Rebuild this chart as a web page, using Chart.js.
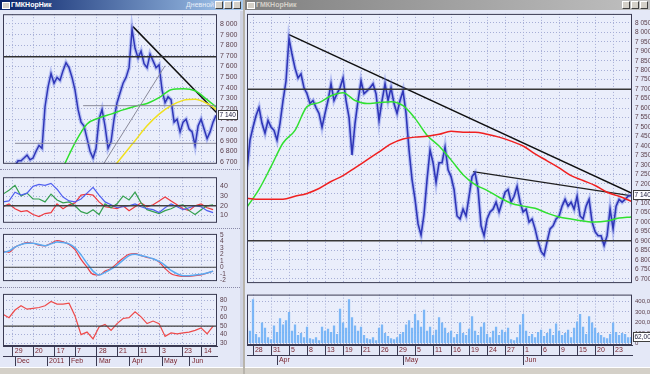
<!DOCTYPE html>
<html>
<head>
<meta charset="utf-8">
<script src="https://cdn.jsdelivr.net/npm/chart.js@4.4.0/dist/chart.umd.min.js"></script>
<style>
body{margin:0;width:650px;height:374px;overflow:hidden;background:#e4e8f7;font-family:"Liberation Sans",Arial,sans-serif;position:relative}
canvas{position:absolute}
.tb{position:absolute;top:0;height:10px;font-size:7px;line-height:10px;font-weight:bold;padding-left:11px;box-sizing:border-box;white-space:nowrap}
.ico{position:absolute;left:2px;top:2px;width:6px;height:5px;background:#d4d0c8;border:1px solid #fff}
.btns{position:absolute;right:2px;top:1px;line-height:0}
.btns span{display:inline-block;width:6px;height:6px;margin-left:1px;background:#d4d0c8;border:1px solid;border-color:#fff #404040 #404040 #fff}
.cap{position:absolute;top:0;font-weight:normal}
.sb{position:absolute;top:367px;height:7px;background:#d4d0c8;border-top:1px solid #fff;box-sizing:border-box}
.sep{position:absolute;left:0;width:240px;height:0;border-top:1px dotted #8a8aa8}
</style>
</head>
<body>
<div class="tb" style="left:0;width:243px;background:linear-gradient(90deg,#0a246a,#a6caf0);color:#fff">
  <div class="ico"></div>ГМКНорНик
  <span class="cap" style="right:29px;color:#e8eef8">Дневной</span>
  <div class="btns"><span></span><span></span><span></span></div>
</div>
<div class="tb" style="left:245px;width:405px;background:linear-gradient(90deg,#808080,#c0c0c0);color:#d4d0c8">
  <div class="ico"></div>ГМКНорНик
  <div class="btns"><span></span><span></span><span></span></div>
</div>
<div style="position:absolute;left:243px;top:0;width:2px;height:374px;background:#b8b4ac"></div>
<div style="position:absolute;left:240px;top:11px;width:3px;height:356px;background:#cfd2e2"></div>
<div class="sep" style="top:169px"></div>
<div class="sep" style="top:228px"></div>
<div class="sep" style="top:287px"></div>

<canvas id="l1" width="243" height="164" style="left:0;top:7px"></canvas>
<canvas id="l2" width="243" height="60" style="left:0;top:170px"></canvas>
<canvas id="l3" width="243" height="61" style="left:0;top:227px"></canvas>
<canvas id="l4" width="243" height="80" style="left:0;top:287px"></canvas>
<canvas id="r1" width="405" height="283" style="left:245px;top:7px"></canvas>
<canvas id="r2" width="405" height="78" style="left:245px;top:288px"></canvas>

<div class="sb" style="left:0;width:243px"></div>
<div class="sb" style="left:245px;width:405px"></div>

<script>
// ---- left window (daily) ----
const priceL = [6600,6620,6640,6620,6660,6710,6710,6736,6764,6720,
  6736,6800,6855,6828,7220,7405,7533,7441,7496,7469,
  7560,7634,7588,7496,7377,7194,7075,7038,6919,6800,
  6736,6828,7102,7194,7038,6828,6892,7102,7258,7350,
  7441,7496,7588,7950,7771,7680,7744,7625,7588,7716,
  7652,7588,7615,7377,7258,7313,7285,7075,7102,6983,
  7075,7102,7010,6983,6855,7038,7102,7010,6919,6983,
  7075,7140];
const maGreenL = [null,null,null,null,6450,6650,6880,7057,7115,7150,7190,7225,7250,7305,7380,7390,7370,7286,7195];
const maYellowL = [null,null,null,null,null,null,null,null,null,6620,6760,6900,7040,7150,7230,7280,7290,7250,7175];
const adxBlue = [24,25,34,31,33,40,42,41,43,37,29,25,24,27,33,39,31,24,21,18,19,20,22,19,17,16,13,18,22,19,16,18,20,19,15,13];
const adxGreen = [32,36,41,30,33,27,27,24,32,26,23,24,20,14,12,16,11,22,18,22,30,26,34,23,16,14,12,15,17,20,21,15,11,16,20,21];
const adxRed = [19,22,17,14,15,11,9,12,13,22,17,21,23,31,32,31,24,19,18,17,20,15,19,23,19,21,25,29,25,21,17,15,20,22,18,16];
const macdRed = [2.5,2.3,3.1,3.5,3.8,3.7,3.4,3.3,3.7,4.1,3.9,3.5,2.7,1.2,0.0,-1.1,-1.2,-0.6,-0.2,0.6,1.4,2.0,2.1,1.8,1.5,1.3,0.8,-0.2,-1.0,-1.3,-1.4,-1.4,-1.3,-1.2,-0.9,-0.6];
const macdBlue = [2.3,2.5,3.1,3.5,3.7,3.7,3.5,3.3,3.6,3.9,3.8,3.6,3.0,1.9,0.6,-0.6,-1.2,-0.8,-0.3,0.3,1.1,1.8,2.0,1.8,1.6,1.3,0.9,0.3,-0.5,-1.0,-1.3,-1.3,-1.2,-1.1,-0.9,-0.6];
const rsi = [64,60,69,74,70,71,72,74,79,76,76,77,62,40,43,35,49,52,45,53,59,60,67,61,53,56,53,38,42,41,42,43,45,48,41,50];
const dayPosL = [3.3,10,17.3,24,31.3,38,45,52.3,59.7,66.3];
const dayLabelsL = ['29','20','17','7','28','21','11','3','23','14'];
const monthPosL = [4,14.7,22,31.3,42.3,53,62.3];
const monthLabelsL = ['Dec','2011','Feb','Mar','Apr','May','Jun'];
const levelsL = {resist: 7690, boxTop: 7230, boxBottom: 6875};
const trendL = [[43.3,7975],[71.3,7160]];
const channelL = [[33.3,6672],[54,7606]];

// ---- right window (hourly) ----
const priceR = [7275,7431,7499,7560,7603,7520,7468,7535,7500,7483,
  7431,7520,7640,7743,7967,7884,7811,7759,7780,7707,
  7676,7624,7640,7603,7572,7499,7572,7640,7728,7640,
  7676,7707,7759,7640,7551,7353,7520,7640,7743,7676,
  7691,7707,7728,7676,7535,7640,7728,7640,7707,7624,
  7572,7640,7691,7572,7379,7223,7119,6989,6930,7041,
  7223,7379,7312,7208,7312,7312,7395,7275,7239,7171,
  7031,7015,7067,7031,7135,7239,7260,7171,6979,6927,
  7015,7052,7067,7104,7052,7104,7156,7171,7104,7135,
  7187,7104,7052,7067,6999,7015,6963,6896,6844,6823,
  6896,6963,6979,7015,7031,7083,7119,7083,7104,7067,
  7135,7031,7015,7083,7119,6999,6948,6927,6927,6875,
  6927,7067,6963,7083,7119,7104,7119,7135,7140];
const maGreenR = [7078,7171,7291,7416,7483,7608,7629,7665,7681,7640,7624,7629,7634,7613,7546,7457,7400,7327,7249,7197,7166,7130,7098,7083,7072,7046,7026,7015,7005,6999,7005,7020,7026];
const maRedR = [7124,7119,7119,7119,7135,7150,7176,7213,7244,7285,7327,7369,7411,7437,7447,7452,7462,7478,7473,7473,7462,7447,7426,7400,7359,7322,7285,7244,7218,7192,7156,7135,7109];
const volume = [150,120,420,90,60,200,150,60,40,170,110,240,180,220,300,120,180,80,100,60,
  160,50,40,60,30,160,120,140,110,170,90,330,200,150,420,250,170,120,160,80,
  50,40,60,30,150,180,100,70,50,40,60,90,110,180,220,150,280,220,160,320,
  120,160,80,130,250,200,150,100,120,60,90,200,100,80,140,260,120,80,160,200,
  90,60,120,160,80,130,110,150,40,30,60,180,280,120,70,90,60,110,130,70,
  100,140,80,190,120,80,100,130,60,150,210,280,160,90,260,200,150,100,80,60,
  50,90,200,110,80,100,90,60,62];
const dayPosR = [2,8,14,20,26,32,38,44,50,56,62,68,74,80,86,92,98,104,110,116,122];
const dayLabelsR = ['28','31','5','8','13','19','21','26','29','5','11','16','19','24','27','1','6','9','15','20','23'];
const monthPosR = [10,52,92];
const monthLabelsR = ['Apr','May','Jun'];
const levelsR = {upper: 7700, lower: 6900};
const trendR1 = [[14,7988],[128.3,7150]];
const trendR2 = [[75.3,7265],[128.3,7137]];

// ---- shared look ----
const tickFont = {family: 'Liberation Sans', size: 7};
const smallFont = {family: 'Liberation Sans', size: 6.5};
const labelColor = '#5a3e4a';
const gridColor = '#a6aed6';
const frameColor = '#3a3a52';

const frame = {
    id: 'frame',
    beforeDraw(chart) {
        const {ctx, chartArea: a} = chart;
        ctx.save();
        ctx.fillStyle = '#eaeefb';
        ctx.fillRect(a.left, a.top, a.width, a.height);
        ctx.restore();
    },
    afterDraw(chart, args, opts) {
        const {ctx, chartArea: a} = chart;
        ctx.save();
        ctx.strokeStyle = frameColor;
        ctx.lineWidth = 1;
        ctx.strokeRect(a.left + 0.5, a.top + 0.5, a.width - 1, a.height - 1);
        if (opts.last !== undefined) {
            const y = Math.round(chart.scales.y.getPixelForValue(opts.last));
            ctx.fillStyle = '#ffffff';
            ctx.fillRect(a.right + 1, y - 5, opts.w, 10);
            ctx.strokeStyle = '#404040';
            ctx.strokeRect(a.right + 1.5, y - 4.5, opts.w - 1, 9);
            ctx.fillStyle = '#202040';
            ctx.font = '6.5px "Liberation Sans"';
            ctx.textBaseline = 'middle';
            ctx.fillText(opts.fmt(opts.last), a.right + 2.5, y + 0.5);
        }
        ctx.restore();
    }
};

function thousands(v) {
    const t = Math.floor(v / 1000), r = String(Math.round(v % 1000)).padStart(3, '0');
    return t + ' ' + r;
}
const pts = (arr, step) => arr.map((v, i) => ({x: i * step, y: v}));
const seg = (p) => p.map(q => ({x: q[0], y: q[1]}));
const flat = (y, x0, x1) => [{x: x0, y: y}, {x: x1, y: y}];

function line(data, color, width, extra) {
    return Object.assign({data: data, borderColor: color, borderWidth: width, pointRadius: 0, fill: false, tension: 0}, extra || {});
}
const smooth = {cubicInterpolationMode: 'monotone'};

function yAxis(min, max, ticks, fmt, width, font) {
    return {
        position: 'right', min: min, max: max,
        afterBuildTicks: s => { s.ticks = ticks.map(v => ({value: v})); },
        afterFit: s => { s.width = width; },
        ticks: {font: font || tickFont, color: labelColor, padding: 3, autoSkip: false, callback: fmt},
        grid: {color: gridColor, drawTicks: false},
        border: {display: false, dash: [1, 2]}
    };
}
function hiddenX(min, max, pos) {
    return {
        type: 'linear', min: min, max: max, offset: false,
        afterBuildTicks: s => { s.ticks = pos.map(v => ({value: v})); },
        afterFit: s => { s.height = 0; },
        ticks: {display: false},
        grid: {color: gridColor, drawTicks: false, offset: false},
        border: {display: false, dash: [1, 2]}
    };
}
function dateX(min, max, pos, labels, onArea) {
    return {
        type: 'linear', position: 'bottom', min: min, max: max, offset: false,
        afterBuildTicks: s => { s.ticks = pos.map(v => ({value: v})); },
        afterFit: s => { s.height = 10; },
        ticks: {font: tickFont, color: '#7a2630', align: 'start', padding: -9, autoSkip: false, maxRotation: 0,
            callback: (v, i) => ' ' + labels[i]},
        grid: {color: gridColor, drawOnChartArea: onArea, offset: false, tickLength: 10, tickColor: frameColor},
        border: {display: true, color: frameColor, dash: [1, 2]}
    };
}
function opts(scales, pad, frameOpts) {
    return {
        responsive: false, animation: false, events: [],
        layout: {padding: pad},
        plugins: {legend: {display: false}, tooltip: {enabled: false}, frame: frameOpts || {}},
        scales: scales
    };
}

const xMaxL = 71.3, xMaxR = 128.3;
const stepTicks = (a, b, s) => { const r = []; for (let v = a; v <= b + 1e-9; v += s) r.push(Math.round(v * 100) / 100); return r; };

// left: price
new Chart(document.getElementById('l1'), {
    type: 'line',
    data: {datasets: [
        line(flat(levelsL.resist, 0, xMaxL), '#303030', 1.5),
        line(flat(levelsL.boxTop, 26.7, xMaxL), '#8a8a9a', 1),
        line(flat(levelsL.boxBottom, 4, xMaxL), '#8a8a9a', 1),
        line(seg(channelL), '#8a8a9a', 1),
        line(pts(maGreenL, 4), '#2ee02e', 1.5, smooth),
        line(pts(maYellowL, 4), '#f0e020', 1.5, smooth),
        line(pts(priceL, 1), 'rgba(90,110,230,0.35)', 4),
        line(pts(priceL, 1), '#1a1aa0', 1.5),
        line(seg(trendL), '#101010', 1.5)
    ]},
    options: opts({
        x: hiddenX(0, xMaxL, dayPosL),
        y: yAxis(6682, 8092, stepTicks(6700, 8000, 100), thousands, 26)
    }, {left: 3, right: 0, top: 5, bottom: 5}, {last: priceL[priceL.length - 1], w: 20, fmt: thousands}),
    plugins: [frame]
});

// left: directional movement
new Chart(document.getElementById('l2'), {
    type: 'line',
    data: {datasets: [
        line(flat(20, 0, xMaxL), '#404040', 1.5),
        line(pts(adxBlue, 2), '#5060f0', 1.2),
        line(pts(adxGreen, 2), '#35a050', 1.2),
        line(pts(adxRed, 2), '#ee3a40', 1.2)
    ]},
    options: opts({
        x: hiddenX(0, xMaxL, dayPosL),
        y: yAxis(2.5, 49.4, [10, 20, 30, 40], v => v, 26)
    }, {left: 3, right: 0, top: 5, bottom: 5}),
    plugins: [frame]
});

// left: MACD
new Chart(document.getElementById('l3'), {
    type: 'line',
    data: {datasets: [
        line(flat(0, 0, xMaxL), '#404040', 1.2),
        line(pts(macdBlue, 2), '#5aaaf2', 1.5, smooth),
        line(pts(macdRed, 2), '#ec4048', 1.2, smooth)
    ]},
    options: opts({
        x: hiddenX(0, xMaxL, dayPosL),
        y: yAxis(-2.14, 5.14, stepTicks(-2, 5, 1), v => v, 26, smallFont)
    }, {left: 3, right: 0, top: 5, bottom: 5}),
    plugins: [frame]
});

// left: RSI + dates
new Chart(document.getElementById('l4'), {
    type: 'line',
    data: {datasets: [
        line(flat(50, 0, xMaxL), '#404040', 1.2),
        line(pts(rsi, 2), '#ee4a4a', 1.2)
    ]},
    options: opts({
        x: dateX(0, xMaxL, dayPosL, dayLabelsL, true),
        xm: dateX(0, xMaxL, monthPosL, monthLabelsL, false),
        y: yAxis(26.6, 88, stepTicks(30, 80, 10), v => v, 26, smallFont)
    }, {left: 3, right: 0, top: 5, bottom: 1}),
    plugins: [frame]
});

// right: hourly price
new Chart(document.getElementById('r1'), {
    type: 'line',
    data: {datasets: [
        line(flat(levelsR.upper, 0, xMaxR), '#383838', 1.5),
        line(flat(levelsR.lower, 0, xMaxR), '#383838', 1.5),
        line(pts(maRedR, 4), '#f02020', 1.5, smooth),
        line(pts(maGreenR, 4), '#30e030', 1.5, smooth),
        line(pts(priceR, 1), 'rgba(90,110,230,0.35)', 4),
        line(pts(priceR, 1), '#1a1aa0', 1.6),
        line(seg(trendR1), '#101010', 1.5),
        line(seg(trendR2), '#202020', 1.3)
    ]},
    options: opts({
        x: hiddenX(0, xMaxR, dayPosR),
        y: yAxis(6677, 8097, stepTicks(6700, 8050, 50), thousands, 18, smallFont)
    }, {left: 2, right: 0, top: 5, bottom: 5}, {last: priceR[priceR.length - 1], w: 18, fmt: thousands}),
    plugins: [frame]
});

// right: volume + dates
new Chart(document.getElementById('r2'), {
    type: 'bar',
    data: {datasets: [{
        data: pts(volume, 1),
        backgroundColor: 'rgba(112,176,246,0.9)',
        barPercentage: 1, categoryPercentage: 0.75
    }]},
    options: opts({
        x: dateX(0, xMaxR, dayPosR, dayLabelsR, true),
        xm: dateX(0, xMaxR, monthPosR, monthLabelsR, false),
        y: yAxis(-15, 465, [0, 100, 200, 300, 400], v => v === 0 ? '0' : v + ',00', 18, {family: 'Liberation Sans', size: 6})
    }, {left: 2, right: 0, top: 5, bottom: 1}, {last: volume[volume.length - 1], w: 18, fmt: v => v + ',00'}),
    plugins: [frame]
});
</script>
</body>
</html>
